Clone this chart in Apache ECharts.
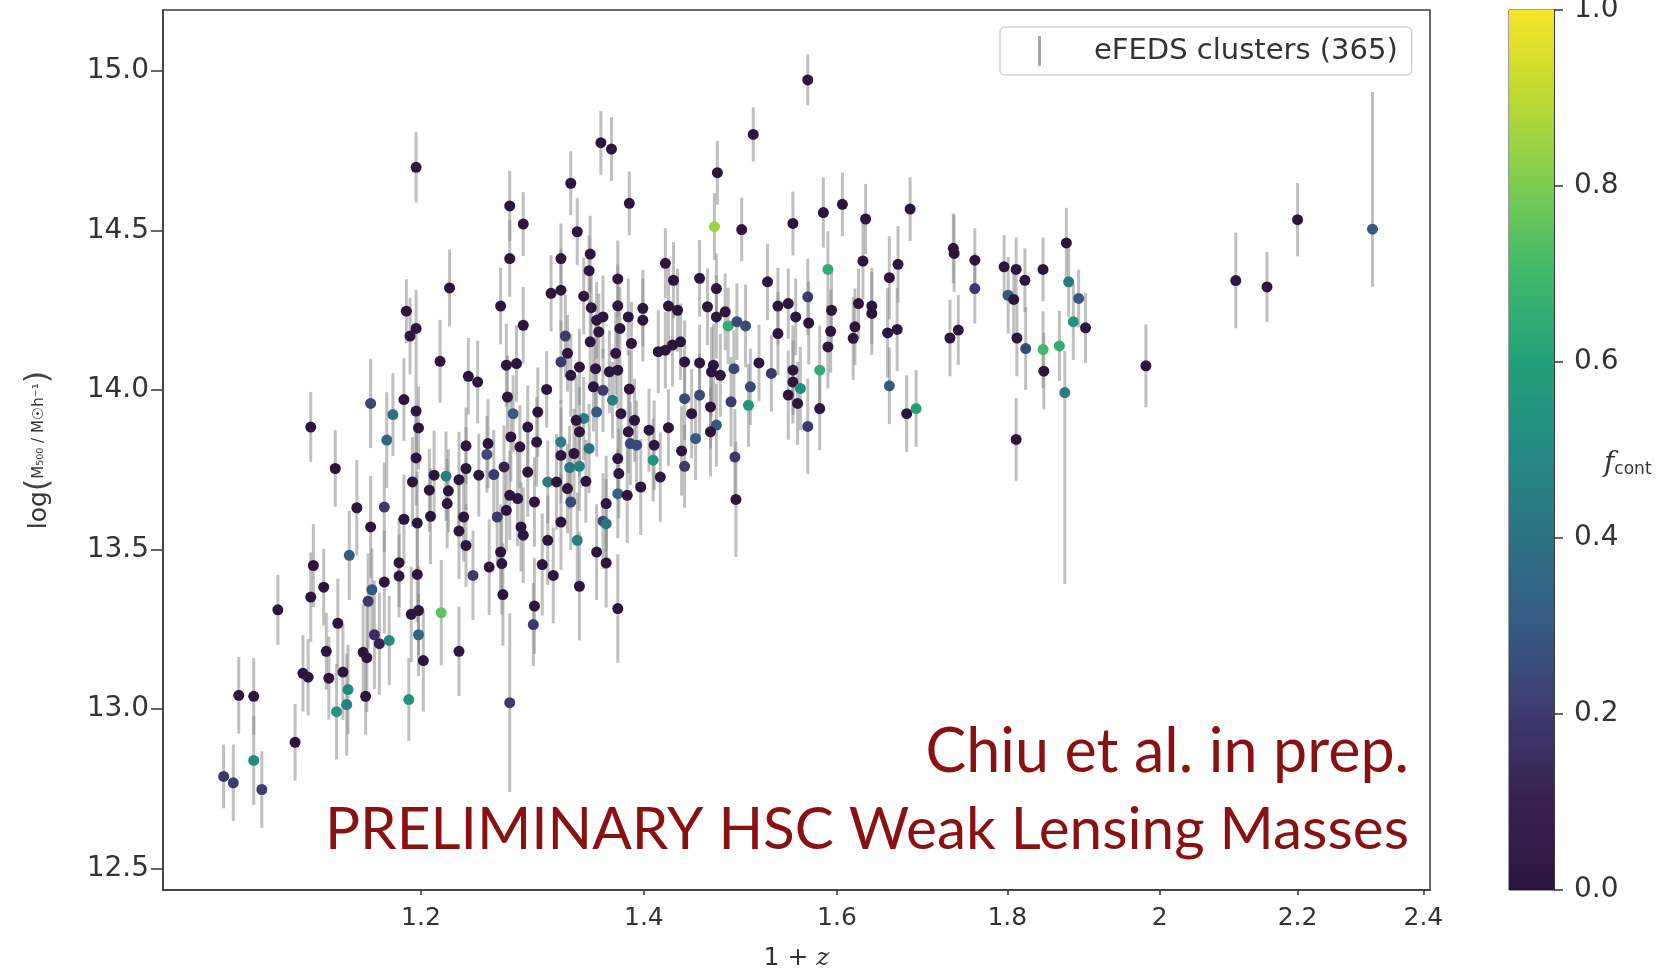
<!DOCTYPE html>
<html><head><meta charset="utf-8">
<script src="https://cdn.jsdelivr.net/npm/echarts@6/dist/echarts.min.js"></script>
<style>html,body{margin:0;padding:0;background:#fff}#c{width:1671px;height:974px}</style>
</head><body><div id="c"></div>
<script>
// ---- tick labels ----
const xTicks = [1.2, 1.4, 1.6, 1.8, 2.0, 2.2, 2.4];
const yTicks = [12.5, 13.0, 13.5, 14.0, 14.5, 15.0];
const cbarTicks = [0, 0.2, 0.4, 0.6, 0.8, 1.0];
// colour map for f_cont (0 -> 1)
const cmapColors = ['#2c1640','#382050','#3d3a6e','#355a82','#2c7285','#238a82','#22a07a','#3fb86a','#7ccc52','#bcd932','#f6e52a'];

// ---- data: [1+z, log M500, err low, err high, f_cont] ----
const sampleA = [
[1.047,12.789,0.10,0.10,0.2],[1.054,12.769,0.12,0.12,0.2],[1.069,12.839,0.14,0.14,0.5],[1.075,12.748,0.12,0.12,0.2],
[1.058,13.043,0.12,0.12,0.02],[1.069,13.040,0.12,0.12,0.02],[1.087,13.311,0.11,0.11,0],[1.100,12.896,0.12,0.12,0],
[1.112,13.884,0.11,0.11,0],[1.131,13.754,0.12,0.12,0],[1.106,13.112,0.12,0.12,0],[1.110,13.100,0.12,0.12,0],
[1.114,13.450,0.13,0.13,0],[1.122,13.382,0.12,0.12,0],[1.112,13.351,0.14,0.14,0],[1.133,13.269,0.14,0.14,0],
[1.124,13.181,0.12,0.12,0],[1.126,13.097,0.13,0.13,0],[1.137,13.116,0.15,0.15,0],[1.141,13.061,0.14,0.14,0.5],
[1.132,12.992,0.15,0.15,0.55],[1.140,13.014,0.16,0.16,0.45],[1.142,13.482,0.14,0.14,0.3],[1.148,13.631,0.15,0.15,0],
[1.159,13.958,0.14,0.14,0.25],[1.177,13.923,0.13,0.13,0.4],[1.172,13.843,0.15,0.15,0.35],[1.159,13.571,0.16,0.16,0],
[1.170,13.633,0.14,0.14,0.2],[1.160,13.374,0.13,0.13,0.3],[1.157,13.338,0.15,0.15,0.2],[1.170,13.398,0.16,0.16,0],
[1.162,13.233,0.17,0.17,0.15],[1.166,13.205,0.16,0.16,0.1],[1.174,13.215,0.14,0.14,0.5],[1.153,13.178,0.15,0.15,0],
[1.156,13.161,0.17,0.17,0],[1.155,13.040,0.12,0.12,0],[1.190,13.030,0.13,0.13,0.55],[1.182,13.459,0.14,0.14,0],
[1.182,13.417,0.13,0.13,0],[1.186,13.970,0.13,0.13,0],[1.196,13.934,0.14,0.14,0],[1.198,13.881,0.13,0.13,0],
[1.196,13.787,0.15,0.15,0],[1.193,13.712,0.14,0.14,0],[1.197,13.583,0.16,0.16,0],[1.186,13.595,0.14,0.14,0],
[1.197,13.422,0.15,0.15,0],[1.192,13.297,0.15,0.15,0],[1.198,13.309,0.14,0.14,0],[1.198,13.233,0.13,0.13,0.35],
[1.188,14.247,0.10,0.10,0],[1.196,14.193,0.12,0.12,0],[1.191,14.169,0.12,0.12,0],[1.196,14.698,0.11,0.11,0]
];
const sampleB = [
[1.202,13.152,0.16,0.16,0],[1.217,13.302,0.165,0.165,0.75],[1.232,13.181,0.14,0.14,0],[1.276,13.020,0.28,0.28,0.2],
[1.207,13.686,0.13,0.13,0],[1.211,13.733,0.14,0.14,0],[1.208,13.604,0.15,0.15,0],[1.222,13.644,0.14,0.14,0],
[1.223,13.684,0.13,0.13,0],[1.221,13.730,0.14,0.14,0.45],[1.232,13.719,0.15,0.15,0],[1.238,13.754,0.13,0.13,0],
[1.238,13.825,0.12,0.12,0],[1.236,13.602,0.14,0.14,0],[1.232,13.558,0.15,0.15,0],[1.238,13.513,0.13,0.13,0],
[1.244,13.419,0.14,0.14,0.2],[1.258,13.445,0.15,0.15,0],[1.249,13.733,0.13,0.13,0],[1.257,13.832,0.14,0.14,0],
[1.256,13.798,0.12,0.12,0.25],[1.262,13.735,0.14,0.14,0.2],[1.271,13.759,0.13,0.13,0.1],[1.268,14.263,0.12,0.12,0],
[1.240,14.043,0.12,0.12,0],[1.248,14.025,0.13,0.13,0],[1.216,14.090,0.13,0.13,0],[1.273,14.078,0.13,0.13,0],
[1.282,14.083,0.12,0.12,0],[1.274,13.978,0.13,0.13,0],[1.279,13.926,0.12,0.12,0.3],[1.277,13.853,0.14,0.14,0],
[1.285,13.822,0.13,0.13,0],[1.276,13.670,0.14,0.14,0],[1.283,13.660,0.15,0.15,0],[1.273,13.623,0.13,0.13,0],
[1.265,13.602,0.14,0.14,0.2],[1.268,13.492,0.15,0.15,0],[1.269,13.456,0.16,0.16,0],[1.270,13.359,0.16,0.16,0],
[1.286,13.571,0.14,0.14,0],[1.288,13.545,0.15,0.15,0],[1.288,14.203,0.12,0.12,0],[1.224,14.320,0.12,0.12,0],
[1.276,14.577,0.11,0.11,0],[1.288,14.520,0.10,0.10,0],[1.276,14.412,0.12,0.12,0],[1.292,13.884,0.13,0.13,0],
[1.300,13.837,0.14,0.14,0],[1.292,13.743,0.14,0.14,0],[1.298,13.649,0.14,0.14,0],[1.298,13.323,0.15,0.15,0],
[1.297,13.265,0.13,0.13,0.2]
];
const sampleC = [
[1.331,14.648,0.10,0.10,0],[1.386,14.585,0.10,0.10,0],[1.337,14.496,0.105,0.105,0],[1.322,14.412,0.11,0.11,0],
[1.349,14.426,0.12,0.12,0],[1.348,14.374,0.11,0.11,0],[1.313,14.303,0.12,0.12,0],[1.322,14.313,0.13,0.13,0],
[1.343,14.294,0.12,0.12,0],[1.375,14.348,0.12,0.12,0],[1.375,14.264,0.13,0.13,0],[1.350,14.258,0.12,0.12,0],
[1.361,14.229,0.13,0.13,0],[1.355,14.219,0.12,0.12,0],[1.377,14.193,0.13,0.13,0],[1.385,14.229,0.12,0.12,0],
[1.399,14.256,0.12,0.12,0],[1.399,14.219,0.13,0.13,0],[1.388,14.146,0.13,0.13,0],[1.357,14.182,0.12,0.12,0],
[1.349,14.151,0.13,0.13,0],[1.326,14.169,0.13,0.13,0.2],[1.328,14.115,0.12,0.12,0],[1.322,14.088,0.13,0.13,0.2],
[1.339,14.072,0.12,0.12,0],[1.331,14.046,0.13,0.13,0],[1.354,14.067,0.14,0.14,0],[1.373,14.115,0.13,0.13,0],
[1.375,14.062,0.12,0.12,0],[1.367,14.057,0.13,0.13,0],[1.352,14.010,0.14,0.14,0],[1.361,13.999,0.13,0.13,0.2],
[1.370,13.968,0.12,0.12,0.45],[1.386,14.003,0.12,0.12,0],[1.355,13.931,0.14,0.14,0.3],[1.343,13.911,0.13,0.13,0.45],
[1.336,13.905,0.14,0.14,0],[1.378,13.926,0.14,0.14,0],[1.391,13.905,0.13,0.13,0],[1.301,13.931,0.14,0.14,0],
[1.309,14.002,0.12,0.12,0],[1.339,13.869,0.14,0.14,0],[1.322,13.837,0.13,0.13,0.45],[1.322,13.795,0.15,0.15,0],
[1.334,13.801,0.14,0.14,0],[1.348,13.817,0.14,0.14,0.4],[1.330,13.757,0.13,0.13,0.4],[1.339,13.761,0.14,0.14,0.45],
[1.310,13.712,0.13,0.13,0.45],[1.318,13.712,0.15,0.15,0],[1.345,13.714,0.13,0.13,0],[1.328,13.691,0.14,0.14,0],
[1.331,13.649,0.15,0.15,0.25],[1.322,13.586,0.15,0.15,0],[1.310,13.529,0.14,0.14,0],[1.337,13.529,0.15,0.15,0.45],
[1.305,13.453,0.16,0.16,0],[1.315,13.419,0.15,0.15,0],[1.339,13.385,0.17,0.17,0],[1.375,13.315,0.17,0.17,0],
[1.355,13.492,0.15,0.15,0],[1.364,13.458,0.14,0.14,0],[1.361,13.589,0.15,0.15,0.25],[1.364,13.581,0.14,0.14,0.4],
[1.364,13.644,0.15,0.15,0],[1.375,13.675,0.14,0.14,0.35],[1.384,13.670,0.15,0.15,0],[1.375,13.785,0.13,0.13,0],
[1.376,13.738,0.14,0.14,0],[1.387,13.832,0.13,0.13,0.25],[1.393,13.827,0.14,0.14,0.25],[1.385,13.869,0.13,0.13,0],
[1.397,13.696,0.15,0.15,0],[1.359,14.775,0.10,0.10,0],[1.369,14.755,0.10,0.10,0]
];
const sampleD = [
[1.405,13.874,0.13,0.13,0],[1.410,13.827,0.14,0.14,0],[1.409,13.780,0.13,0.13,0.55],[1.416,13.727,0.14,0.14,0],
[1.424,13.882,0.12,0.12,0],[1.414,14.120,0.13,0.13,0],[1.421,14.125,0.12,0.12,0],[1.428,14.141,0.13,0.13,0],
[1.436,14.151,0.12,0.12,0],[1.421,14.397,0.11,0.11,0],[1.429,14.344,0.12,0.12,0],[1.424,14.263,0.12,0.12,0],
[1.433,14.250,0.13,0.13,0],[1.455,14.350,0.12,0.12,0],[1.472,14.318,0.11,0.11,0],[1.463,14.261,0.12,0.12,0],
[1.472,14.229,0.13,0.13,0],[1.481,14.245,0.12,0.12,0],[1.470,14.512,0.105,0.105,0.85],[1.498,14.503,0.10,0.10,0],
[1.552,14.522,0.10,0.10,0],[1.525,14.339,0.12,0.12,0],[1.484,14.201,0.12,0.12,0.65],[1.493,14.214,0.12,0.12,0.25],
[1.502,14.201,0.13,0.13,0.25],[1.440,14.088,0.13,0.13,0],[1.455,14.085,0.12,0.12,0],[1.469,14.078,0.13,0.13,0],
[1.467,14.057,0.14,0.14,0],[1.476,14.046,0.13,0.13,0],[1.490,14.067,0.12,0.12,0.25],[1.516,14.085,0.12,0.12,0],
[1.529,14.052,0.12,0.12,0.2],[1.440,13.973,0.13,0.13,0.25],[1.455,13.984,0.13,0.13,0.25],[1.447,13.926,0.14,0.14,0],
[1.466,13.947,0.13,0.13,0],[1.472,13.890,0.13,0.13,0.3],[1.466,13.869,0.14,0.14,0],[1.451,13.848,0.13,0.13,0.3],
[1.437,13.809,0.14,0.14,0],[1.440,13.761,0.13,0.13,0.2],[1.487,13.963,0.14,0.14,0.2],[1.507,14.010,0.12,0.12,0.25],
[1.505,13.952,0.13,0.13,0.55],[1.491,13.790,0.15,0.15,0.2],[1.492,13.657,0.18,0.18,0],[1.536,14.263,0.12,0.12,0],
[1.547,14.271,0.11,0.11,0],[1.555,14.229,0.12,0.12,0],[1.536,14.177,0.13,0.13,0],[1.568,14.292,0.12,0.12,0.2],
[1.569,14.210,0.13,0.13,0],[1.552,14.062,0.14,0.14,0],[1.552,14.025,0.13,0.13,0],[1.560,14.005,0.13,0.13,0.5],
[1.547,13.984,0.14,0.14,0],[1.557,13.958,0.13,0.13,0],[1.568,13.886,0.15,0.15,0.2],[1.581,14.062,0.14,0.14,0.65],
[1.581,13.942,0.13,0.13,0],[1.568,14.972,0.08,0.08,0],[1.510,14.801,0.085,0.085,0],[1.473,14.681,0.10,0.10,0]
];
const sampleE = [
[1.585,14.556,0.11,0.11,0],[1.606,14.582,0.10,0.10,0],[1.632,14.536,0.11,0.11,0],[1.683,14.567,0.10,0.10,0],
[1.590,14.378,0.12,0.12,0.65],[1.629,14.404,0.12,0.12,0],[1.659,14.352,0.13,0.13,0],[1.669,14.394,0.12,0.12,0],
[1.594,14.250,0.12,0.12,0],[1.593,14.184,0.13,0.13,0],[1.590,14.135,0.13,0.13,0],[1.624,14.271,0.11,0.11,0],
[1.639,14.263,0.12,0.12,0],[1.639,14.240,0.13,0.13,0],[1.620,14.198,0.12,0.12,0],[1.618,14.162,0.13,0.13,0],
[1.657,14.179,0.14,0.14,0],[1.668,14.190,0.13,0.13,0],[1.659,14.013,0.12,0.12,0.3],[1.679,13.926,0.12,0.12,0],
[1.690,13.942,0.12,0.12,0.6],[1.734,14.444,0.11,0.11,0],[1.735,14.428,0.12,0.12,0],[1.760,14.407,0.10,0.10,0],
[1.760,14.318,0.11,0.11,0.2],[1.730,14.163,0.12,0.12,0],[1.740,14.188,0.11,0.11,0],[1.796,14.386,0.10,0.10,0],
[1.811,14.378,0.10,0.10,0],[1.822,14.344,0.10,0.10,0],[1.845,14.378,0.10,0.10,0],[1.801,14.297,0.12,0.12,0.3],
[1.808,14.284,0.11,0.11,0],[1.812,14.163,0.12,0.12,0],[1.823,14.130,0.13,0.13,0.25],[1.845,14.127,0.12,0.12,0.7],
[1.866,14.138,0.11,0.11,0.65],[1.846,14.059,0.12,0.12,0],[1.811,13.845,0.13,0.13,0],[1.875,14.461,0.11,0.11,0],
[1.878,14.339,0.11,0.11,0.45],[1.891,14.287,0.09,0.09,0.3],[1.884,14.214,0.12,0.12,0.55],[1.900,14.195,0.11,0.11,0],
[1.873,13.992,0.60,0.13,0.45],[1.981,14.076,0.13,0.13,0],[2.108,14.343,0.15,0.15,0],[2.154,14.323,0.11,0.11,0],
[2.200,14.534,0.115,0.115,0],[2.317,14.504,0.18,0.43,0.3]
];

const clusters = [].concat(sampleA, sampleB, sampleC, sampleD, sampleE);
const errData = clusters.map(r => [r[0], r[1] - r[2], r[1] + r[3]]);
const pointData = clusters.map(r => [r[0], r[1], r[4]]);
const legendName = 'eFEDS clusters (365)';

const chart = echarts.init(document.getElementById('c'), null, {renderer: 'canvas'});
const FONT = 'DejaVu Sans';
const cmapStops = cmapColors.map((c, i) => ({offset: i / (cmapColors.length - 1), color: c}));

chart.setOption({
  animation: false,
  backgroundColor: '#ffffff',
  grid: [
    {left: 163, top: 10, right: 241, bottom: 84, show: true, borderColor: '#3a3a3a', borderWidth: 1.5,
     backgroundColor: 'transparent', outerBoundsMode: 'none', containLabel: false},
    {left: 1509, top: 10, width: 45, height: 880, show: true, borderColor: '#3a3a3a', borderWidth: 1,
     outerBoundsMode: 'none', containLabel: false}
  ],
  xAxis: [
    {type: 'log', logBase: 10, min: 1.004, max: 2.411, gridIndex: 0,
     name: '1 + {i|z}', nameLocation: 'middle', nameGap: 56,
     nameTextStyle: {fontFamily: FONT, fontSize: 25, color: '#333', rich: {i: {fontStyle: 'italic', fontFamily: 'DejaVu Serif', fontSize: 25, color: '#333'}}},
     axisLine: {show: true, lineStyle: {color: '#3a3a3a', width: 1.5}},
     axisTick: {show: true, length: 5, customValues: xTicks, lineStyle: {color: '#333', width: 1.5}},
     minorTick: {show: false},
     axisLabel: {show: true, customValues: xTicks, margin: 16, fontFamily: FONT, fontSize: 25, color: '#333',
                 formatter: v => String(Math.round(v * 10) / 10)},
     splitLine: {show: false}},
    {type: 'category', gridIndex: 1, data: ['c'], show: false}
  ],
  yAxis: [
    {type: 'value', min: 12.433, max: 15.191, gridIndex: 0,
     name: '{l|log}{p|(}{n|M₅₀₀ / M☉h⁻¹}{p|)}', nameLocation: 'middle', nameRotate: 90, nameGap: 108,
     nameTextStyle: {color: '#333', rich: {
       l: {fontFamily: FONT, fontSize: 25, color: '#333'},
       p: {fontFamily: FONT, fontSize: 32, color: '#444'},
       n: {fontFamily: FONT, fontSize: 15, color: '#333'}}},
     axisLine: {show: true, lineStyle: {color: '#3a3a3a', width: 1.5}},
     axisTick: {show: true, length: 12, customValues: yTicks, lineStyle: {color: '#333', width: 1.5}},
     axisLabel: {show: true, customValues: yTicks, margin: 14, fontFamily: FONT, fontSize: 28, color: '#333',
                 formatter: v => v.toFixed(1)},
     splitLine: {show: false}},
    {type: 'value', gridIndex: 1, min: 0, max: 1, interval: 0.2, position: 'right',
     axisLine: {show: true, lineStyle: {color: '#3a3a3a', width: 1}},
     axisTick: {show: true, length: 9, lineStyle: {color: '#333', width: 1.5}},
     axisLabel: {show: true, margin: 20, fontFamily: FONT, fontSize: 28, color: '#333', formatter: v => v.toFixed(1)},
     splitLine: {show: false}}
  ],
  legend: {
    show: true, left: 1000, top: 27, orient: 'horizontal',
    padding: [9, 14, 9, 38], backgroundColor: '#fff', borderColor: '#d4d4d4', borderWidth: 1.5, borderRadius: 5,
    itemWidth: 3, itemHeight: 30,
    data: [{name: legendName, icon: 'rect', itemStyle: {color: '#a8a8a8'}}],
    formatter: n => '{g|}{t|' + n + '}',
    textStyle: {rich: {g: {width: 48}, t: {fontFamily: FONT, fontSize: 29, color: '#333'}}}
  },
  visualMap: {
    type: 'continuous', show: false, min: 0, max: 1, dimension: 2, seriesIndex: 1,
    inRange: {color: cmapColors}
  },
  series: [
    {name: legendName, type: 'custom', xAxisIndex: 0, yAxisIndex: 0, data: errData, clip: true,
     encode: {x: 0, y: [1, 2]},
     itemStyle: {color: '#a8a8a8'},
     renderItem: (params, api) => {
       const p1 = api.coord([api.value(0), api.value(1)]);
       const p2 = api.coord([api.value(0), api.value(2)]);
       return {type: 'line', shape: {x1: p1[0], y1: p1[1], x2: p2[0], y2: p2[1]},
               style: {stroke: 'rgba(135,135,135,0.52)', lineWidth: 3}};
     }, z: 2},
    {name: 'points', type: 'scatter', xAxisIndex: 0, yAxisIndex: 0, data: pointData,
     symbol: 'circle', symbolSize: 11, itemStyle: {opacity: 1}, z: 3},
    {name: 'colorbar', type: 'bar', xAxisIndex: 1, yAxisIndex: 1, data: [1], barWidth: '100%', silent: true,
     itemStyle: {color: new echarts.graphic.LinearGradient(0, 1, 0, 0, cmapStops)}}
  ],
  graphic: [
    {type: 'text', left: 1604, top: 450, style: {text: '{f|f}{s|cont}', rich: {
      f: {fontFamily: 'DejaVu Serif', fontStyle: 'italic', fontSize: 28, fill: '#333'},
      s: {fontFamily: FONT, fontSize: 17, fill: '#333', padding: [12, 0, 0, 0]}}}},
    {type: 'text', x: 1409, y: 752, style: {text: 'Chiu et al. in prep.', align: 'right', verticalAlign: 'middle',
      fontFamily: 'Lato', fontSize: 61, fill: '#8a1111'}},
    {type: 'text', x: 1409, y: 830, style: {text: 'PRELIMINARY HSC Weak Lensing Masses', align: 'right', verticalAlign: 'middle',
      fontFamily: 'Lato', fontSize: 58.5, fill: '#8a1111'}}
  ]
});
</script>
</body></html>
